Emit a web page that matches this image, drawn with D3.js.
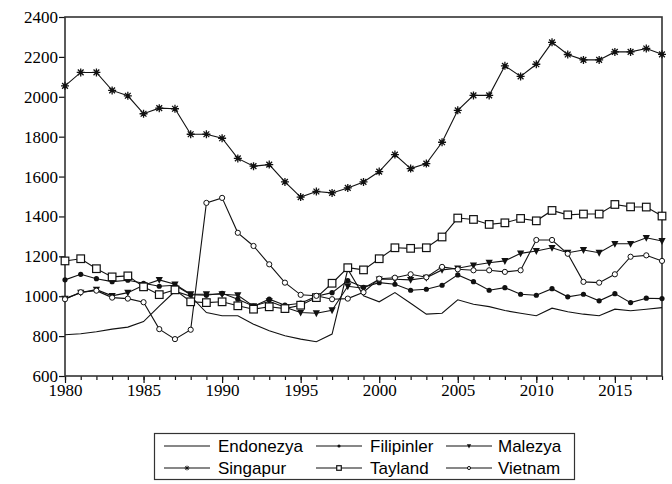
<!DOCTYPE html>
<html><head><meta charset="utf-8">
<script src="https://cdn.jsdelivr.net/npm/d3@7"></script>
<style>body{margin:0;background:#fff}svg{display:block}</style>
</head><body><svg id="c" width="672" height="484"></svg>
<script>
const years=[1980,1981,1982,1983,1984,1985,1986,1987,1988,1989,1990,1991,1992,1993,1994,1995,1996,1997,1998,1999,2000,2001,2002,2003,2004,2005,2006,2007,2008,2009,2010,2011,2012,2013,2014,2015,2016,2017,2018];
const endonezya=[807,812,822,835,845,873,950,1025,1000,918,902,902,860,827,802,785,772,810,1135,1002,972,1018,965,910,915,982,960,948,928,915,902,940,922,910,902,935,927,935,943];
const filipinler=[1082,1110,1088,1073,1080,1065,1050,1055,1007,1005,1015,985,950,985,955,965,1000,1018,1078,1045,1068,1060,1030,1035,1055,1107,1073,1030,1043,1010,1005,1038,997,1010,977,1013,968,990,988];
const malezya=[988,1018,1033,1002,1018,1055,1082,1060,1010,1010,1010,1005,950,975,945,918,915,930,1050,1040,1085,1085,1082,1093,1132,1140,1155,1168,1177,1215,1227,1243,1218,1232,1218,1263,1263,1293,1277];
const singapur=[2055,2122,2122,2032,2005,1915,1943,1940,1812,1812,1792,1691,1652,1660,1573,1497,1525,1518,1543,1573,1625,1710,1640,1665,1772,1932,2007,2007,2155,2102,2163,2273,2212,2185,2185,2225,2225,2242,2213];
const tayland=[1177,1188,1138,1097,1102,1047,1008,1032,972,968,972,952,935,947,938,955,993,1065,1143,1132,1188,1243,1240,1243,1297,1392,1385,1360,1368,1390,1378,1430,1408,1412,1412,1460,1448,1447,1402];
const vietnam=[985,1020,1028,993,988,970,835,785,832,1468,1493,1318,1252,1160,1068,1007,1002,985,988,1020,1088,1093,1110,1095,1147,1135,1130,1130,1122,1130,1282,1282,1213,1072,1068,1110,1198,1205,1177];
const yTicks=[600,800,1000,1200,1400,1600,1800,2000,2200,2400];
const xTicks=[1980,1985,1990,1995,2000,2005,2010,2015];
const seriesNames=["Endonezya","Filipinler","Malezya","Singapur","Tayland","Vietnam"];
const seriesData=[endonezya,filipinler,malezya,singapur,tayland,vietnam];
const markerTypes=["none","dot","tri","star","square","circle"];

const svg=d3.select('#c');
const M={l:65,t:17,r:662,b:376};
const x=d3.scaleLinear().domain([1980,2018]).range([M.l,M.r]);
const y=d3.scaleLinear().domain([600,2400]).range([M.b,M.t]);
const ink="#111";

const ya=svg.append('g').attr('transform',`translate(${M.l},0)`)
  .call(d3.axisLeft(y).tickValues(yTicks).tickSize(6).tickSizeOuter(0).tickFormat(d3.format('d')));
const xmin=svg.append('g').attr('transform',`translate(0,${M.b})`)
  .call(d3.axisBottom(x).tickValues(years).tickSize(4).tickSizeOuter(0).tickFormat(''));
const xa=svg.append('g').attr('transform',`translate(0,${M.b})`)
  .call(d3.axisBottom(x).tickValues(xTicks).tickSize(7).tickSizeOuter(0).tickFormat(d3.format('d')));
[ya,xa,xmin].forEach(g=>{
  g.select('.domain').remove();
  g.selectAll('line').attr('stroke',ink).attr('stroke-width',1.2);
  g.selectAll('text').attr('font-family','"Liberation Serif","Times New Roman",serif').attr('font-size',17).attr('fill','#000');
});
ya.selectAll('text').attr('x',-7);
xa.selectAll('text').attr('y',8);

svg.append('rect').attr('x',M.l).attr('y',M.t).attr('width',M.r-M.l).attr('height',M.b-M.t)
  .attr('fill','none').attr('stroke','#333').attr('stroke-width',1.6);

function drawMarker(g,type,cx,cy,s){
  if(type==='dot'){g.append('circle').attr('cx',cx).attr('cy',cy).attr('r',2.6*s).attr('fill',ink);}
  else if(type==='circle'){g.append('circle').attr('cx',cx).attr('cy',cy).attr('r',2.6*s).attr('fill','#fff').attr('stroke',ink).attr('stroke-width',1);}
  else if(type==='square'){const h=3.8*s;g.append('rect').attr('x',cx-h).attr('y',cy-h).attr('width',2*h).attr('height',2*h).attr('fill','#fff').attr('stroke',ink).attr('stroke-width',1.2);}
  else if(type==='tri'){const h=3.6*s;g.append('path').attr('d',`M${cx-h},${cy-h*0.8}L${cx+h},${cy-h*0.8}L${cx},${cy+h*1.1}Z`).attr('fill',ink);}
  else if(type==='star'){const h=4*s,d=h*0.72;
    g.append('path').attr('d',`M${cx},${cy-h}V${cy+h}M${cx-h},${cy}H${cx+h}M${cx-d},${cy-d}L${cx+d},${cy+d}M${cx-d},${cy+d}L${cx+d},${cy-d}`).attr('stroke',ink).attr('stroke-width',s<1?0.9:1.3);
    if(s>=1) g.append('circle').attr('cx',cx).attr('cy',cy).attr('r',1.8*s).attr('fill',ink);}
}

const line=d3.line().x((d,i)=>x(years[i])).y(d=>y(d));
const plot=svg.append('g');
seriesData.forEach((arr,k)=>{
  plot.append('path').datum(arr).attr('d',line).attr('fill','none').attr('stroke',ink).attr('stroke-width',1.1);
});
seriesData.forEach((arr,k)=>{
  const g=plot.append('g');
  if(markerTypes[k]!=='none') arr.forEach((v,i)=>drawMarker(g,markerTypes[k],x(years[i]),y(v),1));
});

const lg=svg.append('g');
lg.append('rect').attr('x',154.5).attr('y',433.5).attr('width',420).attr('height',46).attr('fill','#fff').attr('stroke','#333').attr('stroke-width',1.2);
const colL=[164,316,446], colW=46, colT=[218,370,498], rowY=[446,468];
seriesNames.forEach((n,k)=>{
  const c=k%3,r=Math.floor(k/3);
  const x1=colL[c],x2=colL[c]+colW,yy=rowY[r];
  lg.append('line').attr('x1',x1).attr('x2',x2).attr('y1',yy).attr('y2',yy).attr('stroke',ink).attr('stroke-width',1.2);
  if(markerTypes[k]!=='none') drawMarker(lg,markerTypes[k],(x1+x2)/2,yy,0.6);
  lg.append('text').attr('x',colT[c]).attr('y',yy).attr('dy','0.35em').text(n)
    .attr('font-family','"Liberation Sans",Arial,sans-serif').attr('font-size',17).attr('fill','#000');
});
</script></body></html>
